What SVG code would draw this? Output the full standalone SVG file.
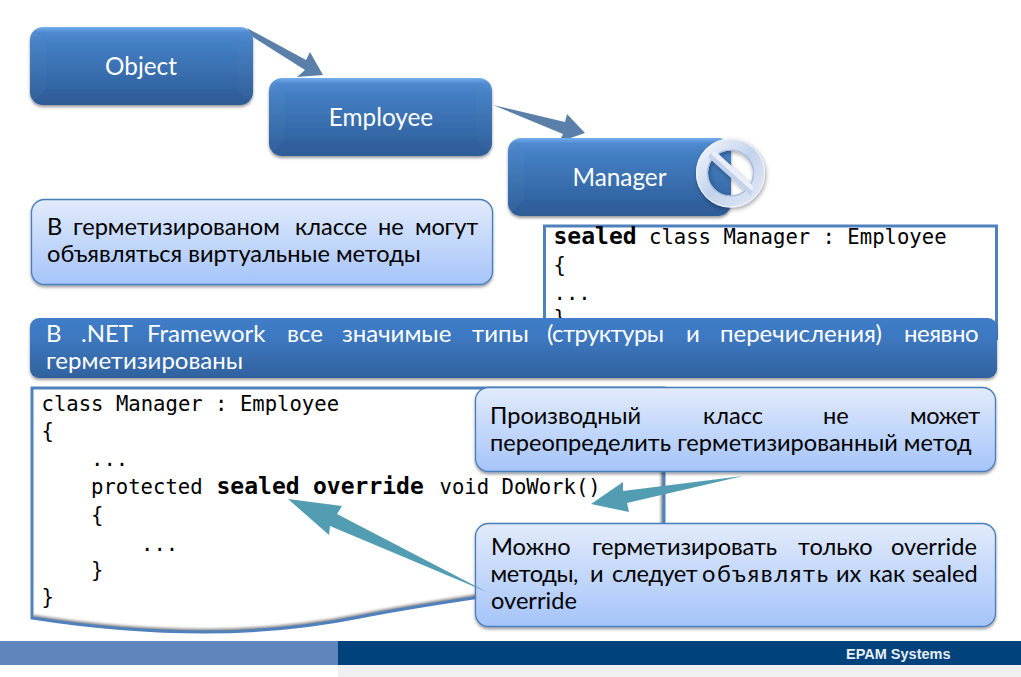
<svg xmlns="http://www.w3.org/2000/svg" width="1021" height="677" viewBox="0 0 1021 677">
<style>
text{font-family:Lato,"Noto Sans",sans-serif}
.t{font-size:23.6px;fill:#000}
.w{font-size:24.3px;fill:#fff;text-anchor:middle}
.b{font-size:24px;fill:#fff}
.c{font-family:"DejaVu Sans Mono","Liberation Mono",monospace;font-size:20.6px;fill:#000}
.s{font-family:"DejaVu Sans Mono","Liberation Mono",monospace;font-size:23px;font-weight:700;fill:#000}
.node{fill:url(#dark);filter:url(#sh)}
.soft{fill:url(#light);stroke:#4a7ebb;stroke-width:1.3;filter:url(#sh)}
.code{fill:#fff;stroke:none}
.edge{fill:none;stroke:#4f81bd;stroke-width:3}
.inner{fill:none;stroke:#808080;stroke-width:6;filter:url(#blur)}
.a1{fill:#5a80aa}
.a2{fill:#539db2}
</style>
<defs>
<linearGradient id="dark" x1="0" y1="0" x2="0" y2="1"><stop offset="0" stop-color="#73aeee"/><stop offset=".07" stop-color="#508ad0"/><stop offset=".2" stop-color="#437fc4"/><stop offset=".85" stop-color="#31629f"/><stop offset="1" stop-color="#2f5e98"/></linearGradient>
<linearGradient id="band" x1="0" y1="0" x2="0" y2="1"><stop offset="0" stop-color="#3f7cc8"/><stop offset=".3" stop-color="#3e79c2"/><stop offset="1" stop-color="#31619e"/></linearGradient>
<linearGradient id="light" x1="0" y1="0" x2="0" y2="1"><stop offset="0" stop-color="#e2ebfb"/><stop offset="1" stop-color="#a5c4fa"/></linearGradient>
<linearGradient id="ring" x1="0" y1="0" x2="1" y2="1"><stop offset="0" stop-color="#f0f4fb"/><stop offset=".5" stop-color="#c3d2ec"/><stop offset="1" stop-color="#e0e8f6"/></linearGradient>
<filter id="sh" x="-5%" y="-10%" width="110%" height="125%"><feDropShadow dx="0" dy="2" stdDeviation="1.6" flood-color="#000" flood-opacity=".4"/></filter>
<filter id="ringsh" x="-20%" y="-20%" width="140%" height="140%"><feDropShadow dx="1" dy="2" stdDeviation="2" flood-color="#000" flood-opacity=".35"/></filter>
<filter id="blur" x="-5%" y="-5%" width="110%" height="110%"><feGaussianBlur stdDeviation="1.6"/></filter>
<clipPath id="clip2"><path d="M32 388H664V570L480 597C440 603 400 609 360 617C320 625 270 632 205 632C150 632 90 627 32 618Z"/></clipPath>
<clipPath id="clip1"><rect x="545" y="226" width="451" height="114"/></clipPath>
<g id="bevel"><path d="M0 0L16 16V62L0 78Z" fill="#fff" opacity=".025"/><path d="M223 0L207 16V62L223 78Z" fill="#fff" opacity=".015"/><path d="M0 78L16 62H207L223 78Z" fill="#00204a" opacity=".025"/></g>
</defs>
<rect width="1021" height="677" fill="#fff"/>

<g id="code-sealed">
<rect class="code" x="545" y="226" width="451" height="114"/>
<path d="M996.500 226V340" clip-path="url(#clip1)" class="inner"/>
<path class="edge" d="M544.500 340V226H996.500V340"/>
<text class="c" x="553.500" y="244"><tspan class="s">sealed</tspan> class Manager : Employee</text>
<text class="c" x="553.500" y="272">{</text>
<text class="c" x="553.500" y="300">...</text>
<text class="c" x="553.500" y="325">}</text>
</g>

<g id="code-override">
<path class="code" d="M32 388H664V570L480 597C440 603 400 609 360 617C320 625 270 632 205 632C150 632 90 627 32 618Z"/>
<g clip-path="url(#clip2)"><path class="inner" d="M664 388V570L480 597C440 603 400 609 360 617C320 625 270 632 205 632C150 632 90 627 32 618"/></g>
<path class="edge" d="M32 388H664V570L480 597C440 603 400 609 360 617C320 625 270 632 205 632C150 632 90 627 32 618Z"/>
<text class="c" x="41.500" y="411">class Manager : Employee</text>
<text class="c" x="41.500" y="438">{</text>
<text class="c" x="91" y="466">...</text>
<text class="c" x="91" y="494">protected <tspan class="s" x="216.500">sealed</tspan><tspan class="s" x="313">override</tspan><tspan x="439.500">void DoWork()</tspan></text>
<text class="c" x="91" y="522">{</text>
<text class="c" x="141" y="551">...</text>
<text class="c" x="91" y="577">}</text>
<text class="c" x="41.500" y="604">}</text>
</g>

<g id="connectors">
<polygon class="a1" points="247,28 306,60 310,52 323,75 297,77 305,70 253,37"/>
<polygon class="a1" points="493,105 565,122 567,114 585,133 559,142 563,134"/>
</g>

<g id="object">
<rect class="node" x="30" y="27" width="223" height="78" rx="13"/>
<use href="#bevel" x="30" y="27"/>
<text class="w" x="141" y="75">Object</text>
</g>
<g id="employee">
<rect class="node" x="269" y="78" width="223" height="78" rx="13"/>
<use href="#bevel" x="269" y="78"/>
<text class="w" x="381" y="126">Employee</text>
</g>
<g id="manager">
<rect class="node" x="508" y="138" width="223" height="78" rx="13"/>
<use href="#bevel" x="508" y="138"/>
<text class="w" x="619.500" y="186">Manager</text>
</g>
<g id="no-sign" filter="url(#ringsh)">
<circle cx="730.500" cy="173" r="28.500" fill="none" stroke="url(#ring)" stroke-width="12"/>
<circle cx="730.500" cy="173" r="34" fill="none" stroke="#f2f5fb" stroke-width="1"/>
<circle cx="730.500" cy="173" r="23" fill="none" stroke="#a5b8da" stroke-width="1.200"/>
<polygon points="708,157 714,150 754,187 751,196" fill="#c3d2ec"/>
<polygon points="714,150 754,187 752,191 711,154" fill="#e9eff9"/>
</g>

<g id="note-virtual">
<rect class="soft" x="31.500" y="199.500" width="461" height="85" rx="13"/>
<text class="t" y="235"><tspan x="47">В</tspan><tspan x="73">герметизированом</tspan><tspan x="295">классе</tspan><tspan x="378">не</tspan><tspan x="415" letter-spacing="-.2">могут</tspan></text>
<text class="t" x="47" y="262">объявляться виртуальные методы</text>
</g>

<g id="band-note">
<rect x="30" y="318" width="967" height="60" rx="9" fill="url(#band)" filter="url(#sh)"/>
<text class="b" y="342"><tspan x="46">В</tspan><tspan x="81">.NET</tspan><tspan x="147">Framework</tspan><tspan x="287">все</tspan><tspan x="342">значимые</tspan><tspan x="472">типы</tspan><tspan x="547" letter-spacing="-.6">(структуры</tspan><tspan x="686">и</tspan><tspan x="720">перечисления)</tspan><tspan x="904" letter-spacing="-.5">неявно</tspan></text>
<text class="b" x="46" y="369">герметизированы</text>
</g>

<g id="note-derived">
<rect class="soft" x="475.500" y="387.500" width="520" height="84" rx="13"/>
<text class="t" y="424"><tspan x="490">Производный</tspan><tspan x="703">класс</tspan><tspan x="823">не</tspan><tspan x="910" letter-spacing="-.4">может</tspan></text>
<text class="t" x="490" y="451">переопределить герметизированный метод</text>
</g>
<g id="note-override">
<rect class="soft" x="475.500" y="523.500" width="520" height="103" rx="13"/>
<text class="t" y="555"><tspan x="491">Можно</tspan><tspan x="592" letter-spacing="-.1">герметизировать</tspan><tspan x="798">только</tspan><tspan x="891">override</tspan></text>
<text class="t" y="582"><tspan x="490.500" letter-spacing="-.4">методы,</tspan><tspan x="590">и</tspan><tspan x="612" letter-spacing="-.3">следует</tspan><tspan x="702" letter-spacing="1.700">объявлять</tspan><tspan x="836">их</tspan><tspan x="869">как</tspan><tspan x="912">sealed</tspan></text>
<text class="t" x="491" y="609">override</text>
</g>

<g id="callout-arrows">
<polygon class="a2" points="743,476 623,491 623,482 591,504 629,512 627,503"/>
<polygon class="a2" points="487,592 337,514 342,506 288,499 329,535 330,526"/>
</g>

<g id="footer">
<rect x="0" y="641" width="338" height="24" fill="#5f86bc"/>
<rect x="338" y="641" width="683" height="24" fill="#00427c"/>
<rect x="338" y="665" width="683" height="12" fill="#f0f0f0"/>
<text x="846" y="659" style="font-family:'Liberation Sans',Arial,sans-serif;font-size:14.500px;font-weight:700;fill:#e8eef5">EPAM Systems</text>
</g>
</svg>
